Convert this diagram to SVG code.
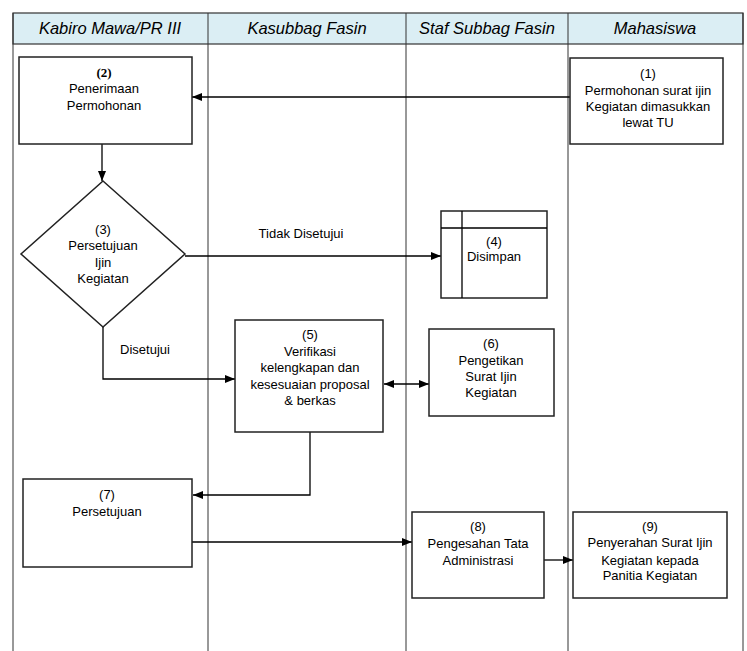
<svg xmlns="http://www.w3.org/2000/svg" width="747" height="651" viewBox="0 0 747 651">
<defs>
<marker id="ah" viewBox="0 0 10 10" refX="10" refY="5" markerWidth="10" markerHeight="10" markerUnits="userSpaceOnUse" orient="auto-start-reverse">
<path d="M0,1 L10,5 L0,9 z" fill="#000"/>
</marker>
<style>
.lane{stroke:#333;stroke-width:1;fill:none}
.hdr{font-family:"Liberation Sans",Arial,sans-serif;font-style:italic;font-size:16.5px;fill:#000;text-anchor:middle}
.box{fill:#fff;stroke:#222;stroke-width:1.5}
.t{font-family:"Liberation Sans",Arial,sans-serif;font-size:13px;fill:#000;text-anchor:middle}
.b{font-family:"Liberation Serif","Times New Roman",serif;font-weight:bold}
.c{fill:none;stroke:#000;stroke-width:1.3}
</style>
</defs>
<rect width="747" height="651" fill="#fff"/>
<g id="swimlanes">
<rect x="13" y="13" width="730" height="31" fill="#dbeef4" stroke="#333" stroke-width="1.2"/>
<path class="lane" d="M13,13 V651 M743,13 V651 M208,13 V651 M406,13 V651 M568,13 V651"/>
<text class="hdr" x="110" y="34">Kabiro Mawa/PR III</text>
<text class="hdr" x="307" y="34">Kasubbag Fasin</text>
<text class="hdr" x="487" y="34">Staf Subbag Fasin</text>
<text class="hdr" x="655" y="34">Mahasiswa</text>
</g>
<g id="connectors">
<path class="c" d="M571,97 H192" marker-end="url(#ah)"/>
<path class="c" d="M102,144 V181" marker-end="url(#ah)"/>
<path class="c" d="M185,256 H441" marker-end="url(#ah)"/>
<path class="c" d="M103,327 V379 H235" marker-end="url(#ah)"/>
<path class="c" d="M384,384 H429" marker-start="url(#ah)" marker-end="url(#ah)"/>
<path class="c" d="M310,432 V495 H193" marker-end="url(#ah)"/>
<path class="c" d="M192,542 H412" marker-end="url(#ah)"/>
<path class="c" d="M544,560 H573" marker-end="url(#ah)"/>
<text class="t" x="301" y="238">Tidak Disetujui</text>
<text class="t" x="145" y="354">Disetujui</text>
</g>
<g id="node1">
<rect class="box" x="570" y="58" width="153" height="86"/>
<text class="t" x="648" y="78">(1)</text>
<text class="t" x="648" y="95">Permohonan surat ijin</text>
<text class="t" x="648" y="111">Kegiatan dimasukkan</text>
<text class="t" x="648" y="127">lewat TU</text>
</g>
<g id="node2">
<rect class="box" x="19" y="57" width="173" height="87"/>
<text class="t b" x="104" y="77">(2)</text>
<text class="t" x="104" y="93">Penerimaan</text>
<text class="t" x="104" y="110">Permohonan</text>
</g>
<g id="node3">
<polygon class="box" points="103,181 185,254 103,327 21,254"/>
<text class="t" x="103" y="234">(3)</text>
<text class="t" x="103" y="250">Persetujuan</text>
<text class="t" x="103" y="267">Ijin</text>
<text class="t" x="103" y="283">Kegiatan</text>
</g>
<g id="node4">
<rect class="box" x="441" y="211" width="106" height="87"/>
<path class="c" d="M441,228 H547 M462,211 V298" stroke-width="1.5"/>
<text class="t" x="494" y="246">(4)</text>
<text class="t" x="494" y="261">Disimpan</text>
</g>
<g id="node5">
<rect class="box" x="235" y="320" width="148" height="112"/>
<text class="t" x="310" y="339">(5)</text>
<text class="t" x="310" y="356">Verifikasi</text>
<text class="t" x="310" y="372">kelengkapan dan</text>
<text class="t" x="310" y="389">kesesuaian proposal</text>
<text class="t" x="310" y="405">&amp; berkas</text>
</g>
<g id="node6">
<rect class="box" x="429" y="329" width="125" height="87"/>
<text class="t" x="491" y="348">(6)</text>
<text class="t" x="491" y="365">Pengetikan</text>
<text class="t" x="491" y="381">Surat Ijin</text>
<text class="t" x="491" y="397">Kegiatan</text>
</g>
<g id="node7">
<rect class="box" x="23" y="479" width="169" height="88"/>
<text class="t" x="107" y="499">(7)</text>
<text class="t" x="107" y="516">Persetujuan</text>
</g>
<g id="node8">
<rect class="box" x="412" y="512" width="132" height="86"/>
<text class="t" x="478" y="531">(8)</text>
<text class="t" x="478" y="548">Pengesahan Tata</text>
<text class="t" x="478" y="565">Administrasi</text>
</g>
<g id="node9">
<rect class="box" x="573" y="512" width="154" height="86"/>
<text class="t" x="650" y="531">(9)</text>
<text class="t" x="650" y="547">Penyerahan Surat Ijin</text>
<text class="t" x="650" y="565">Kegiatan kepada</text>
<text class="t" x="650" y="580">Panitia Kegiatan</text>
</g>
</svg>
